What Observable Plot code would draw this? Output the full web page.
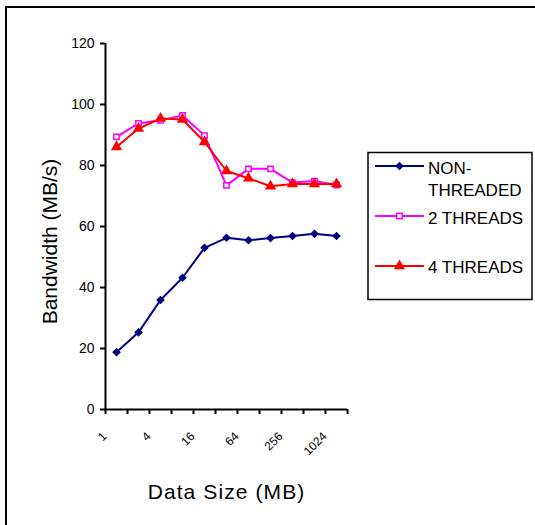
<!DOCTYPE html>
<html>
<head>
<meta charset="utf-8">
<script src="https://cdn.jsdelivr.net/npm/d3@7"></script>
<script src="https://cdn.jsdelivr.net/npm/@observablehq/plot@0.6"></script>
<style>
  body { margin: 0; background: #fff; }
  #wrap { position: relative; width: 535px; height: 525px; overflow: hidden; background: #fff; }
  #wrap svg { position: absolute; left: 0; top: 0; }
  #border { position: absolute; left: 5px; top: 6px; width: 600px; height: 600px;
            border: 2px solid #000; box-sizing: border-box; z-index: 2; pointer-events: none; }
</style>
</head>
<body>
<div id="wrap"><div id="border"></div></div>
<script>
// Data sizes (MB), one category per power of two
const sizes = [1, 2, 4, 8, 16, 32, 64, 128, 256, 512, 1024];
// Bandwidth (MB/s) per data size
const nonThreaded = [18.8, 25.3, 35.9, 43.2, 53.0, 56.3, 55.5, 56.2, 56.9, 57.6, 56.9];
const twoThreads  = [89.4, 93.8, 94.8, 96.4, 89.8, 73.5, 78.9, 78.9, 74.4, 74.9, 73.6];
const fourThreads = [86.1, 92.1, 95.4, 95.1, 87.7, 78.2, 75.8, 73.2, 73.9, 73.9, 73.9];

const seriesNames   = ["NON-THREADED", "2 THREADS", "4 THREADS"];
const legendLines   = [["NON-", "THREADED"], ["2 THREADS"], ["4 THREADS"]];
const seriesColors  = ["#000080", "#ff00ff", "#ff0000"];
const seriesSymbols = ["diamond2", "square2", "triangle"];
const yTicks = [0, 20, 40, 60, 80, 100, 120];
const xLabelSizes = [1, 4, 16, 64, 256, 1024];
const xTitle = "Data Size (MB)";
const yTitle = "Bandwidth (MB/s)";

const font = "'Liberation Sans', Arial, sans-serif";
const seriesValues = [nonThreaded, twoThreads, fourThreads];

// long-form table: one row per series and size
const rows = seriesNames.flatMap((name, s) =>
  sizes.map((size, i) => ({ series: name, i, size, value: seriesValues[s][i] })));

// category boundaries carry the x tick marks
const bounds = d3.range(sizes.length + 1).map(k => k - 0.5);

const dotStyle = [
  { fill: seriesColors[0], stroke: "none", r: 3.9 },
  { fill: "#fff", stroke: seriesColors[1], strokeWidth: 1.5, r: 3.4 },
  { fill: seriesColors[2], stroke: "none", r: 4.2 }
];

const marks = [
  Plot.axisY({ ticks: yTicks, tickSize: 5, tickPadding: 6, fontSize: 14, strokeWidth: 2, label: null }),
  Plot.axisX({ ticks: bounds, tickSize: 5, tickFormat: () => "", strokeWidth: 2, label: null }),
  Plot.ruleY([0], { stroke: "#000", strokeWidth: 2 }),
  Plot.ruleX([bounds[0]], { stroke: "#000", strokeWidth: 2 }),
  Plot.text(xLabelSizes, {
    x: d => sizes.indexOf(d), text: d => String(d), frameAnchor: "bottom",
    rotate: -45, textAnchor: "end", dx: -9, dy: 27.5, fontSize: 12, fill: "#000"
  }),
  Plot.text([xTitle], {
    frameAnchor: "bottom", textAnchor: "middle", lineAnchor: "middle",
    dy: 83, fontSize: 21, fill: "#000"
  }),
  Plot.text([yTitle], {
    frameAnchor: "left", textAnchor: "middle", lineAnchor: "middle", rotate: -90,
    dx: -55, dy: 15, fontSize: 21, fill: "#000"
  })
];

seriesNames.forEach((name, s) => {
  const data = rows.filter(d => d.series === name);
  marks.push(Plot.line(data, { x: "i", y: "value", stroke: seriesColors[s], strokeWidth: 2 }));
  marks.push(Plot.dot(data, { x: "i", y: "value", symbol: seriesSymbols[s], ...dotStyle[s] }));
});

const chart = Plot.plot({
  width: 535,
  height: 525,
  marginLeft: 105,
  marginRight: 188,
  marginTop: 43,
  marginBottom: 116,
  style: { fontFamily: font, background: "transparent", color: "#000" },
  x: { type: "linear", domain: [bounds[0], bounds[bounds.length - 1]], axis: null },
  y: { domain: [0, 120], axis: null },
  marks
});

document.getElementById("wrap").appendChild(chart);

const svg = d3.select(chart);
// slightly wider tracking on the x axis title
svg.selectAll("text").filter(function () { return this.textContent === xTitle; })
  .attr("letter-spacing", "1.1px");

// legend box at the right of the plot
const lg = svg.append("g").attr("font-family", font).attr("font-size", 17).attr("text-anchor", "start");
lg.append("rect").attr("x", 368).attr("y", 152.5).attr("width", 164).attr("height", 147)
  .attr("fill", "#fff").attr("stroke", "#000").attr("stroke-width", 1.5);
const lineY = [166, 216, 266];
const textY = [[174.3, 196.3], [224.3], [273.3]];
const legendSymbols = [d3.symbolDiamond2, d3.symbolSquare2, d3.symbolTriangle];
seriesNames.forEach((name, s) => {
  lg.append("line").attr("x1", 375).attr("x2", 424).attr("y1", lineY[s]).attr("y2", lineY[s])
    .attr("stroke", seriesColors[s]).attr("stroke-width", 2);
  const st = dotStyle[s];
  lg.append("path")
    .attr("transform", `translate(399.5,${lineY[s]})`)
    .attr("d", d3.symbol(legendSymbols[s], Math.PI * st.r * st.r)())
    .attr("fill", st.fill).attr("stroke", st.stroke).attr("stroke-width", st.strokeWidth || 0);
  legendLines[s].forEach((t, k) => {
    lg.append("text").attr("x", 428).attr("y", textY[s][k]).attr("fill", "#000").text(t);
  });
});
</script>
</body>
</html>
